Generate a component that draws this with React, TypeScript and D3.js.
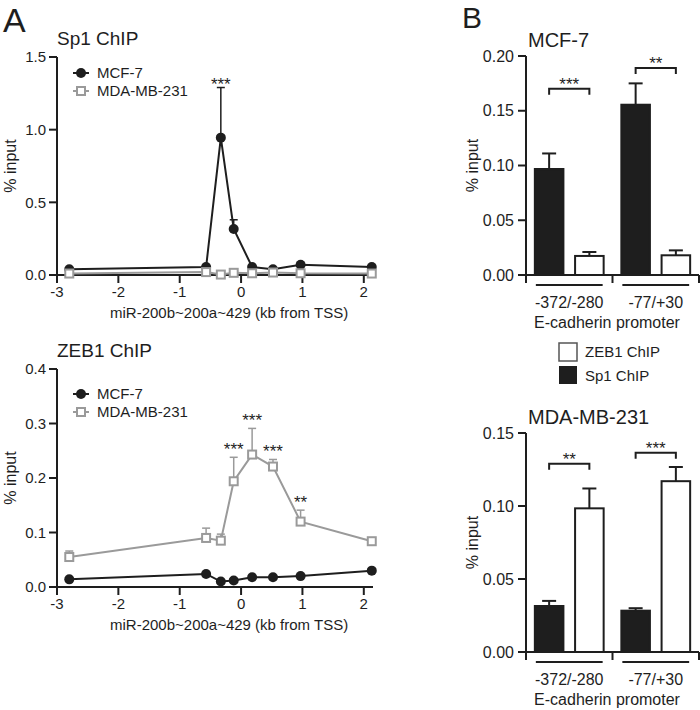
import React from 'react';
import * as d3 from 'd3';

// ---------- Panel A data ----------
const positionsKb = [-2.8, -0.57, -0.33, -0.12, 0.18, 0.52, 0.97, 2.13];
const sp1Mcf7 = [0.04, 0.055, 0.945, 0.317, 0.055, 0.04, 0.07, 0.055];
const sp1Mcf7Err = [0, 0, 0.345, 0.063, 0, 0, 0, 0];
const sp1Mda = [0.01, 0.02, 0.003, 0.015, 0.012, 0.017, 0.012, 0.01];
const sp1MdaErr = [0, 0, 0, 0, 0, 0, 0, 0];
const sp1Stars = ['', '', '***', '', '', '', '', ''];

const zeb1Mcf7 = [0.014, 0.024, 0.01, 0.012, 0.018, 0.018, 0.02, 0.03];
const zeb1Mcf7Err = [0, 0, 0, 0, 0, 0, 0, 0];
const zeb1Mda = [0.055, 0.09, 0.085, 0.194, 0.243, 0.221, 0.12, 0.084];
const zeb1MdaErr = [0.011, 0.018, 0.012, 0.044, 0.048, 0.013, 0.021, 0];
const zeb1Stars = ['', '', '', '***', '***', '***', '**', ''];

const xTicksKb = [-3, -2, -1, 0, 1, 2];
const sp1YTicks = [0, 0.5, 1.0, 1.5];
const zeb1YTicks = [0, 0.1, 0.2, 0.3, 0.4];
const cellLines = ['MCF-7', 'MDA-MB-231'];

// ---------- Panel B data ----------
const promoterRegions = ['-372/-280', '-77/+30'];
const chipTypes = ['Sp1 ChIP', 'ZEB1 ChIP'];
const mcf7Sp1 = [0.0968, 0.1555];
const mcf7Sp1Err = [0.0142, 0.0195];
const mcf7Zeb1 = [0.0174, 0.018];
const mcf7Zeb1Err = [0.0036, 0.0045];
const mcf7Sig = ['***', '**'];
const mcf7BracketLevel = [0.17, 0.189];
const mcf7YTicks = [0, 0.05, 0.1, 0.15, 0.2];

const mdaSp1 = [0.0315, 0.0283];
const mdaSp1Err = [0.0035, 0.0017];
const mdaZeb1 = [0.0984, 0.117];
const mdaZeb1Err = [0.0136, 0.0097];
const mdaSig = ['**', '***'];
const mdaBracketLevel = [0.129, 0.1365];
const mdaYTicks = [0, 0.05, 0.1, 0.15];

const FONT = "'Liberation Sans', Arial, Helvetica, sans-serif";
const INK = '#1e1e1e';
const GRAY = '#9a9a9a';

type LineProps = {
  title: string;
  yTop: number;
  yBottom: number;
  yMax: number;
  yTicks: number[];
  yFmt: (v: number) => string;
  black: number[];
  blackErr: number[];
  gray: number[];
  grayErr: number[];
  stars: string[];
  starSeries: 'black' | 'gray';
  starGap: number;
  legendY: number;
};

function LineChart(p: LineProps) {
  const x0 = 57;
  const x = d3.scaleLinear().domain([-3, 2.15]).range([x0, 373]);
  const y = d3.scaleLinear().domain([0, p.yMax]).range([p.yBottom, p.yTop]);
  const line = d3
    .line<number>()
    .x((_, i) => x(positionsKb[i]))
    .y((d) => y(d));
  const sq = 8;
  const starVals = p.starSeries === 'black' ? p.black : p.gray;
  const starErr = p.starSeries === 'black' ? p.blackErr : p.grayErr;
  return (
    <g fontFamily={FONT} fill={INK}>
      <text x={57} y={p.yTop - 12} fontSize={19}>{p.title}</text>
      {/* y axis */}
      <line x1={x0} x2={x0} y1={p.yTop} y2={p.yBottom + 8} stroke={INK} strokeWidth={2} />
      {p.yTicks.map((t) => (
        <g key={t}>
          <line x1={x0 - 8} x2={x0} y1={y(t)} y2={y(t)} stroke={INK} strokeWidth={2} />
          <text x={x0 - 11} y={y(t)} dy="0.35em" textAnchor="end" fontSize={15}>{p.yFmt(t)}</text>
        </g>
      ))}
      <text
        transform={`translate(16,${(p.yTop + p.yBottom) / 2}) rotate(-90)`}
        textAnchor="middle"
        fontSize={16}
      >
        % input
      </text>
      {/* x axis */}
      <line x1={x0} x2={373} y1={p.yBottom} y2={p.yBottom} stroke={INK} strokeWidth={2} />
      {xTicksKb.map((t) => (
        <g key={t}>
          <line x1={x(t)} x2={x(t)} y1={p.yBottom} y2={p.yBottom + 8} stroke={INK} strokeWidth={2} />
          <text x={x(t)} y={p.yBottom + 22} textAnchor="middle" fontSize={15}>{t}</text>
        </g>
      ))}
      <text x={110} y={p.yBottom + 43} fontSize={15}>miR-200b~200a~429 (kb from TSS)</text>

      {/* black series */}
      {p.black.map((v, i) =>
        p.blackErr[i] > 0 ? (
          <g key={'be' + i} stroke={INK} strokeWidth={1.5}>
            <line x1={x(positionsKb[i])} x2={x(positionsKb[i])} y1={y(v)} y2={y(v + p.blackErr[i])} />
            <line x1={x(positionsKb[i]) - 4} x2={x(positionsKb[i]) + 4} y1={y(v + p.blackErr[i])} y2={y(v + p.blackErr[i])} />
          </g>
        ) : null
      )}
      <path d={line(p.black) || ''} fill="none" stroke={INK} strokeWidth={2} />
      {p.black.map((v, i) => (
        <circle key={'bc' + i} cx={x(positionsKb[i])} cy={y(v)} r={5} fill={INK} />
      ))}

      {/* gray series */}
      {p.gray.map((v, i) =>
        p.grayErr[i] > 0 ? (
          <g key={'ge' + i} stroke={GRAY} strokeWidth={1.5}>
            <line x1={x(positionsKb[i])} x2={x(positionsKb[i])} y1={y(v)} y2={y(v + p.grayErr[i])} />
            <line x1={x(positionsKb[i]) - 4} x2={x(positionsKb[i]) + 4} y1={y(v + p.grayErr[i])} y2={y(v + p.grayErr[i])} />
          </g>
        ) : null
      )}
      <path d={line(p.gray) || ''} fill="none" stroke={GRAY} strokeWidth={2} />
      {p.gray.map((v, i) => (
        <rect
          key={'gs' + i}
          x={x(positionsKb[i]) - sq / 2}
          y={y(v) - sq / 2}
          width={sq}
          height={sq}
          fill="#fff"
          stroke={GRAY}
          strokeWidth={2}
        />
      ))}

      {/* stars */}
      {p.stars.map((s, i) =>
        s ? (
          <text
            key={'st' + i}
            x={x(positionsKb[i])}
            y={y(starVals[i] + starErr[i]) - p.starGap}
            textAnchor="middle"
            fontSize={17}
          >
            {s}
          </text>
        ) : null
      )}

      {/* legend */}
      <g>
        <line x1={73} x2={89} y1={p.legendY} y2={p.legendY} stroke={INK} strokeWidth={2} />
        <circle cx={81} cy={p.legendY} r={5} fill={INK} />
        <text x={97} y={p.legendY} dy="0.35em" fontSize={15}>{cellLines[0]}</text>
        <line x1={73} x2={89} y1={p.legendY + 18} y2={p.legendY + 18} stroke={GRAY} strokeWidth={2} />
        <rect x={81 - sq / 2} y={p.legendY + 18 - sq / 2} width={sq} height={sq} fill="#fff" stroke={GRAY} strokeWidth={2} />
        <text x={97} y={p.legendY + 18} dy="0.35em" fontSize={15}>{cellLines[1]}</text>
      </g>
    </g>
  );
}

type BarProps = {
  title: string;
  yTop: number;
  yBottom: number;
  yMax: number;
  yTicks: number[];
  sp1: number[];
  sp1Err: number[];
  zeb1: number[];
  zeb1Err: number[];
  sig: string[];
  bracket: number[];
};

function BarChart(p: BarProps) {
  const xL = 526;
  const xR = 699;
  const xg = d3.scaleBand<string>().domain(promoterRegions).range([xL, xR]).padding(0);
  const xb = d3
    .scaleBand<string>()
    .domain(chipTypes)
    .range([0, xg.bandwidth()])
    .paddingInner(0.29)
    .paddingOuter(0.22);
  const y = d3.scaleLinear().domain([0, p.yMax]).range([p.yBottom, p.yTop]);
  const bw = xb.bandwidth();
  const fmt = d3.format('.2f');
  const series = [
    { key: chipTypes[0], vals: p.sp1, errs: p.sp1Err, fill: INK },
    { key: chipTypes[1], vals: p.zeb1, errs: p.zeb1Err, fill: '#fff' },
  ];
  return (
    <g fontFamily={FONT} fill={INK}>
      <text x={528} y={p.yTop - 9} fontSize={20}>{p.title}</text>
      <line x1={xL} x2={xL} y1={p.yTop} y2={p.yBottom + 8} stroke={INK} strokeWidth={2} />
      {p.yTicks.map((t) => (
        <g key={t}>
          <line x1={xL - 8} x2={xL} y1={y(t)} y2={y(t)} stroke={INK} strokeWidth={2} />
          <text x={xL - 12} y={y(t)} dy="0.35em" textAnchor="end" fontSize={16}>{fmt(t)}</text>
        </g>
      ))}
      <text
        transform={`translate(478,${(p.yTop + p.yBottom) / 2}) rotate(-90)`}
        textAnchor="middle"
        fontSize={16}
      >
        % input
      </text>
      <line x1={xL} x2={xR} y1={p.yBottom} y2={p.yBottom} stroke={INK} strokeWidth={2} />
      {promoterRegions.map((g) => (
        <line
          key={'gt' + g}
          x1={(xg(g) as number) + xg.bandwidth()}
          x2={(xg(g) as number) + xg.bandwidth()}
          y1={p.yBottom}
          y2={p.yBottom + 8}
          stroke={INK}
          strokeWidth={2}
        />
      ))}
      {promoterRegions.map((g, gi) => {
        const gx = xg(g) as number;
        const sx = gx + (xb(chipTypes[0]) as number);
        const zx = gx + (xb(chipTypes[1]) as number);
        const by = y(p.bracket[gi]);
        return (
          <g key={g}>
            {series.map((s) => {
              const bx = gx + (xb(s.key) as number);
              const v = s.vals[gi];
              const e = s.errs[gi];
              const cx = bx + bw / 2;
              return (
                <g key={s.key}>
                  <line x1={cx} x2={cx} y1={y(v)} y2={y(v + e)} stroke={INK} strokeWidth={2} />
                  <line x1={cx - 7} x2={cx + 7} y1={y(v + e)} y2={y(v + e)} stroke={INK} strokeWidth={2} />
                  <rect
                    x={bx}
                    y={y(v)}
                    width={bw}
                    height={p.yBottom - y(v)}
                    fill={s.fill}
                    stroke={INK}
                    strokeWidth={2}
                  />
                </g>
              );
            })}
            <path
              d={`M${sx + bw / 2},${by + 6}V${by}H${zx + bw / 2}V${by + 6}`}
              fill="none"
              stroke={INK}
              strokeWidth={2}
            />
            <text x={(sx + zx + bw) / 2} y={by + 1} textAnchor="middle" fontSize={17}>{p.sig[gi]}</text>
            <line x1={sx + 1} x2={zx + bw - 1} y1={p.yBottom + 10} y2={p.yBottom + 10} stroke={INK} strokeWidth={2} />
            <text x={gx + xg.bandwidth() / 2} y={p.yBottom + 27} dy="0.35em" textAnchor="middle" fontSize={16}>{g}</text>
          </g>
        );
      })}
      <text x={607} y={p.yBottom + 47} dy="0.35em" textAnchor="middle" fontSize={16}>E-cadherin promoter</text>
    </g>
  );
}

export default function App() {
  return (
    <svg
      width={700}
      height={710}
      viewBox="0 0 700 710"
      style={{ position: 'absolute', left: 0, top: 0, background: '#fff' }}
    >
      <rect x={0} y={0} width={700} height={710} fill="#fff" />
      <text x={3} y={32} fontSize={34} fontFamily={FONT} fill={INK}>A</text>
      <text x={462} y={28} fontSize={30} fontFamily={FONT} fill={INK}>B</text>
      <LineChart
        title="Sp1 ChIP"
        yTop={57}
        yBottom={275}
        yMax={1.5}
        yTicks={sp1YTicks}
        yFmt={d3.format('.1f')}
        black={sp1Mcf7}
        blackErr={sp1Mcf7Err}
        gray={sp1Mda}
        grayErr={sp1MdaErr}
        stars={sp1Stars}
        starSeries="black"
        starGap={-2}
        legendY={73}
      />
      <LineChart
        title="ZEB1 ChIP"
        yTop={369}
        yBottom={587}
        yMax={0.4}
        yTicks={zeb1YTicks}
        yFmt={d3.format('.1f')}
        black={zeb1Mcf7}
        blackErr={zeb1Mcf7Err}
        gray={zeb1Mda}
        grayErr={zeb1MdaErr}
        stars={zeb1Stars}
        starSeries="gray"
        starGap={2}
        legendY={394}
      />
      <BarChart
        title="MCF-7"
        yTop={56}
        yBottom={275}
        yMax={0.2}
        yTicks={mcf7YTicks}
        sp1={mcf7Sp1}
        sp1Err={mcf7Sp1Err}
        zeb1={mcf7Zeb1}
        zeb1Err={mcf7Zeb1Err}
        sig={mcf7Sig}
        bracket={mcf7BracketLevel}
      />
      <g fontFamily={FONT} fill={INK}>
        <rect x={559} y={343} width={18} height={18} fill="#fff" stroke="#555" strokeWidth={1.5} />
        <text x={585} y={352} dy="0.35em" fontSize={15}>{chipTypes[1]}</text>
        <rect x={559} y={366} width={18} height={18} fill={INK} />
        <text x={585} y={376} dy="0.35em" fontSize={15}>{chipTypes[0]}</text>
      </g>
      <BarChart
        title="MDA-MB-231"
        yTop={433}
        yBottom={652}
        yMax={0.15}
        yTicks={mdaYTicks}
        sp1={mdaSp1}
        sp1Err={mdaSp1Err}
        zeb1={mdaZeb1}
        zeb1Err={mdaZeb1Err}
        sig={mdaSig}
        bracket={mdaBracketLevel}
      />
    </svg>
  );
}
